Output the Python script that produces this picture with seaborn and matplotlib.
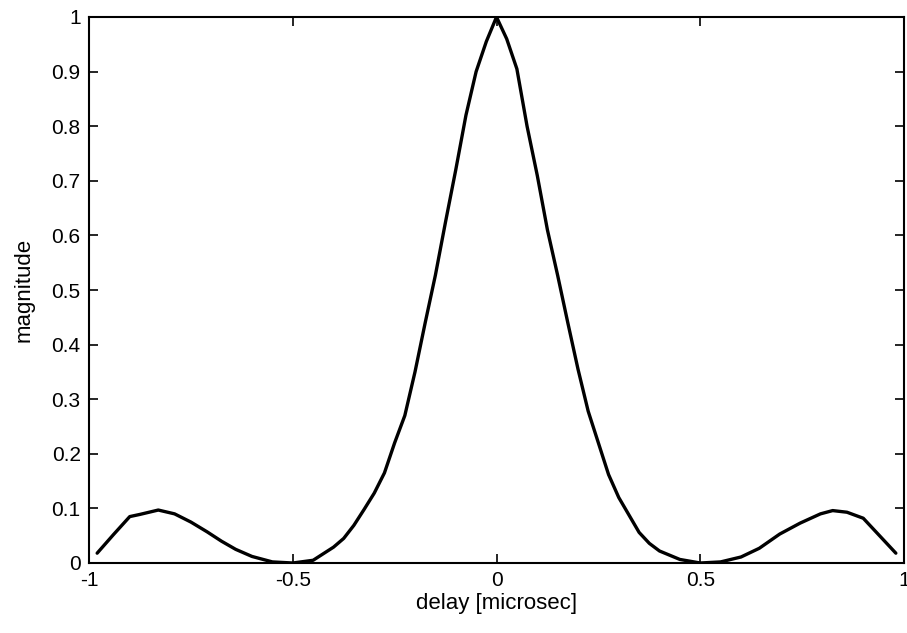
import matplotlib
matplotlib.use("Agg")
import matplotlib.pyplot as plt
import seaborn as sns
import pandas as pd

# data
delay = [-0.98, -0.94, -0.90, -0.875, -0.83, -0.79, -0.75, -0.71, -0.675, -0.64,
         -0.60, -0.55, -0.50, -0.45, -0.40, -0.375, -0.35, -0.325, -0.30, -0.275,
         -0.25, -0.225, -0.20, -0.175, -0.15, -0.125, -0.10, -0.075, -0.05, -0.025,
         0.0,
         0.025, 0.05, 0.075, 0.10, 0.125, 0.15, 0.175, 0.20, 0.225, 0.25,
         0.275, 0.30, 0.325, 0.35, 0.375, 0.40, 0.45, 0.50, 0.55, 0.60,
         0.645, 0.695, 0.745, 0.795, 0.825, 0.86, 0.90, 0.94, 0.98]
magnitude = [0.018, 0.052, 0.085, 0.089, 0.097, 0.090, 0.075, 0.057, 0.040, 0.025,
             0.012, 0.002, 0.0, 0.005, 0.029, 0.045, 0.069, 0.098, 0.128, 0.165,
             0.22, 0.27, 0.35, 0.44, 0.527, 0.625, 0.72, 0.82, 0.90, 0.955,
             1.0,
             0.96, 0.905, 0.80, 0.71, 0.61, 0.527, 0.44, 0.355, 0.278, 0.22,
             0.162, 0.12, 0.088, 0.056, 0.036, 0.022, 0.0065, 0.0, 0.002, 0.011,
             0.027, 0.053, 0.073, 0.090, 0.096, 0.093, 0.082, 0.05, 0.018]

x_ticks = [-1, -0.5, 0, 0.5, 1]
x_tick_labels = ["-1", "-0.5", "0", "0.5", "1"]
y_ticks = [0, 0.1, 0.2, 0.3, 0.4, 0.5, 0.6, 0.7, 0.8, 0.9, 1]
y_tick_labels = ["0", "0.1", "0.2", "0.3", "0.4", "0.5", "0.6", "0.7", "0.8", "0.9", "1"]

sns.set_theme(style="ticks")
plt.rcParams["font.family"] = ["Liberation Sans", "DejaVu Sans"]
plt.rcParams["axes.unicode_minus"] = False

df = pd.DataFrame({"delay": delay, "magnitude": magnitude})

fig = plt.figure(figsize=(9.07, 6.33), dpi=100)
ax = fig.add_axes([89 / 907, 1 - 563 / 633, (904 - 89) / 907, (563 - 17) / 633])
sns.lineplot(data=df, x="delay", y="magnitude", ax=ax, color="black",
             linewidth=2.4, sort=False)

ax.set_xlim(-1, 1)
ax.set_ylim(0, 1)
ax.set_xticks(x_ticks)
ax.set_xticklabels(x_tick_labels)
ax.set_yticks(y_ticks)
ax.set_yticklabels(y_tick_labels)
ax.tick_params(direction="in", length=6.5, width=1.2, labelsize=15,
               top=True, right=True, colors="black", pad=6)
for s in ax.spines.values():
    s.set_visible(True)
    s.set_linewidth(1.5)
    s.set_color("black")
ax.set_xlabel("delay [microsec]", fontsize=16, labelpad=2, color="black")
ax.set_ylabel("magnitude", fontsize=16, labelpad=12, color="black")

fig.savefig("out.png", dpi=100)
